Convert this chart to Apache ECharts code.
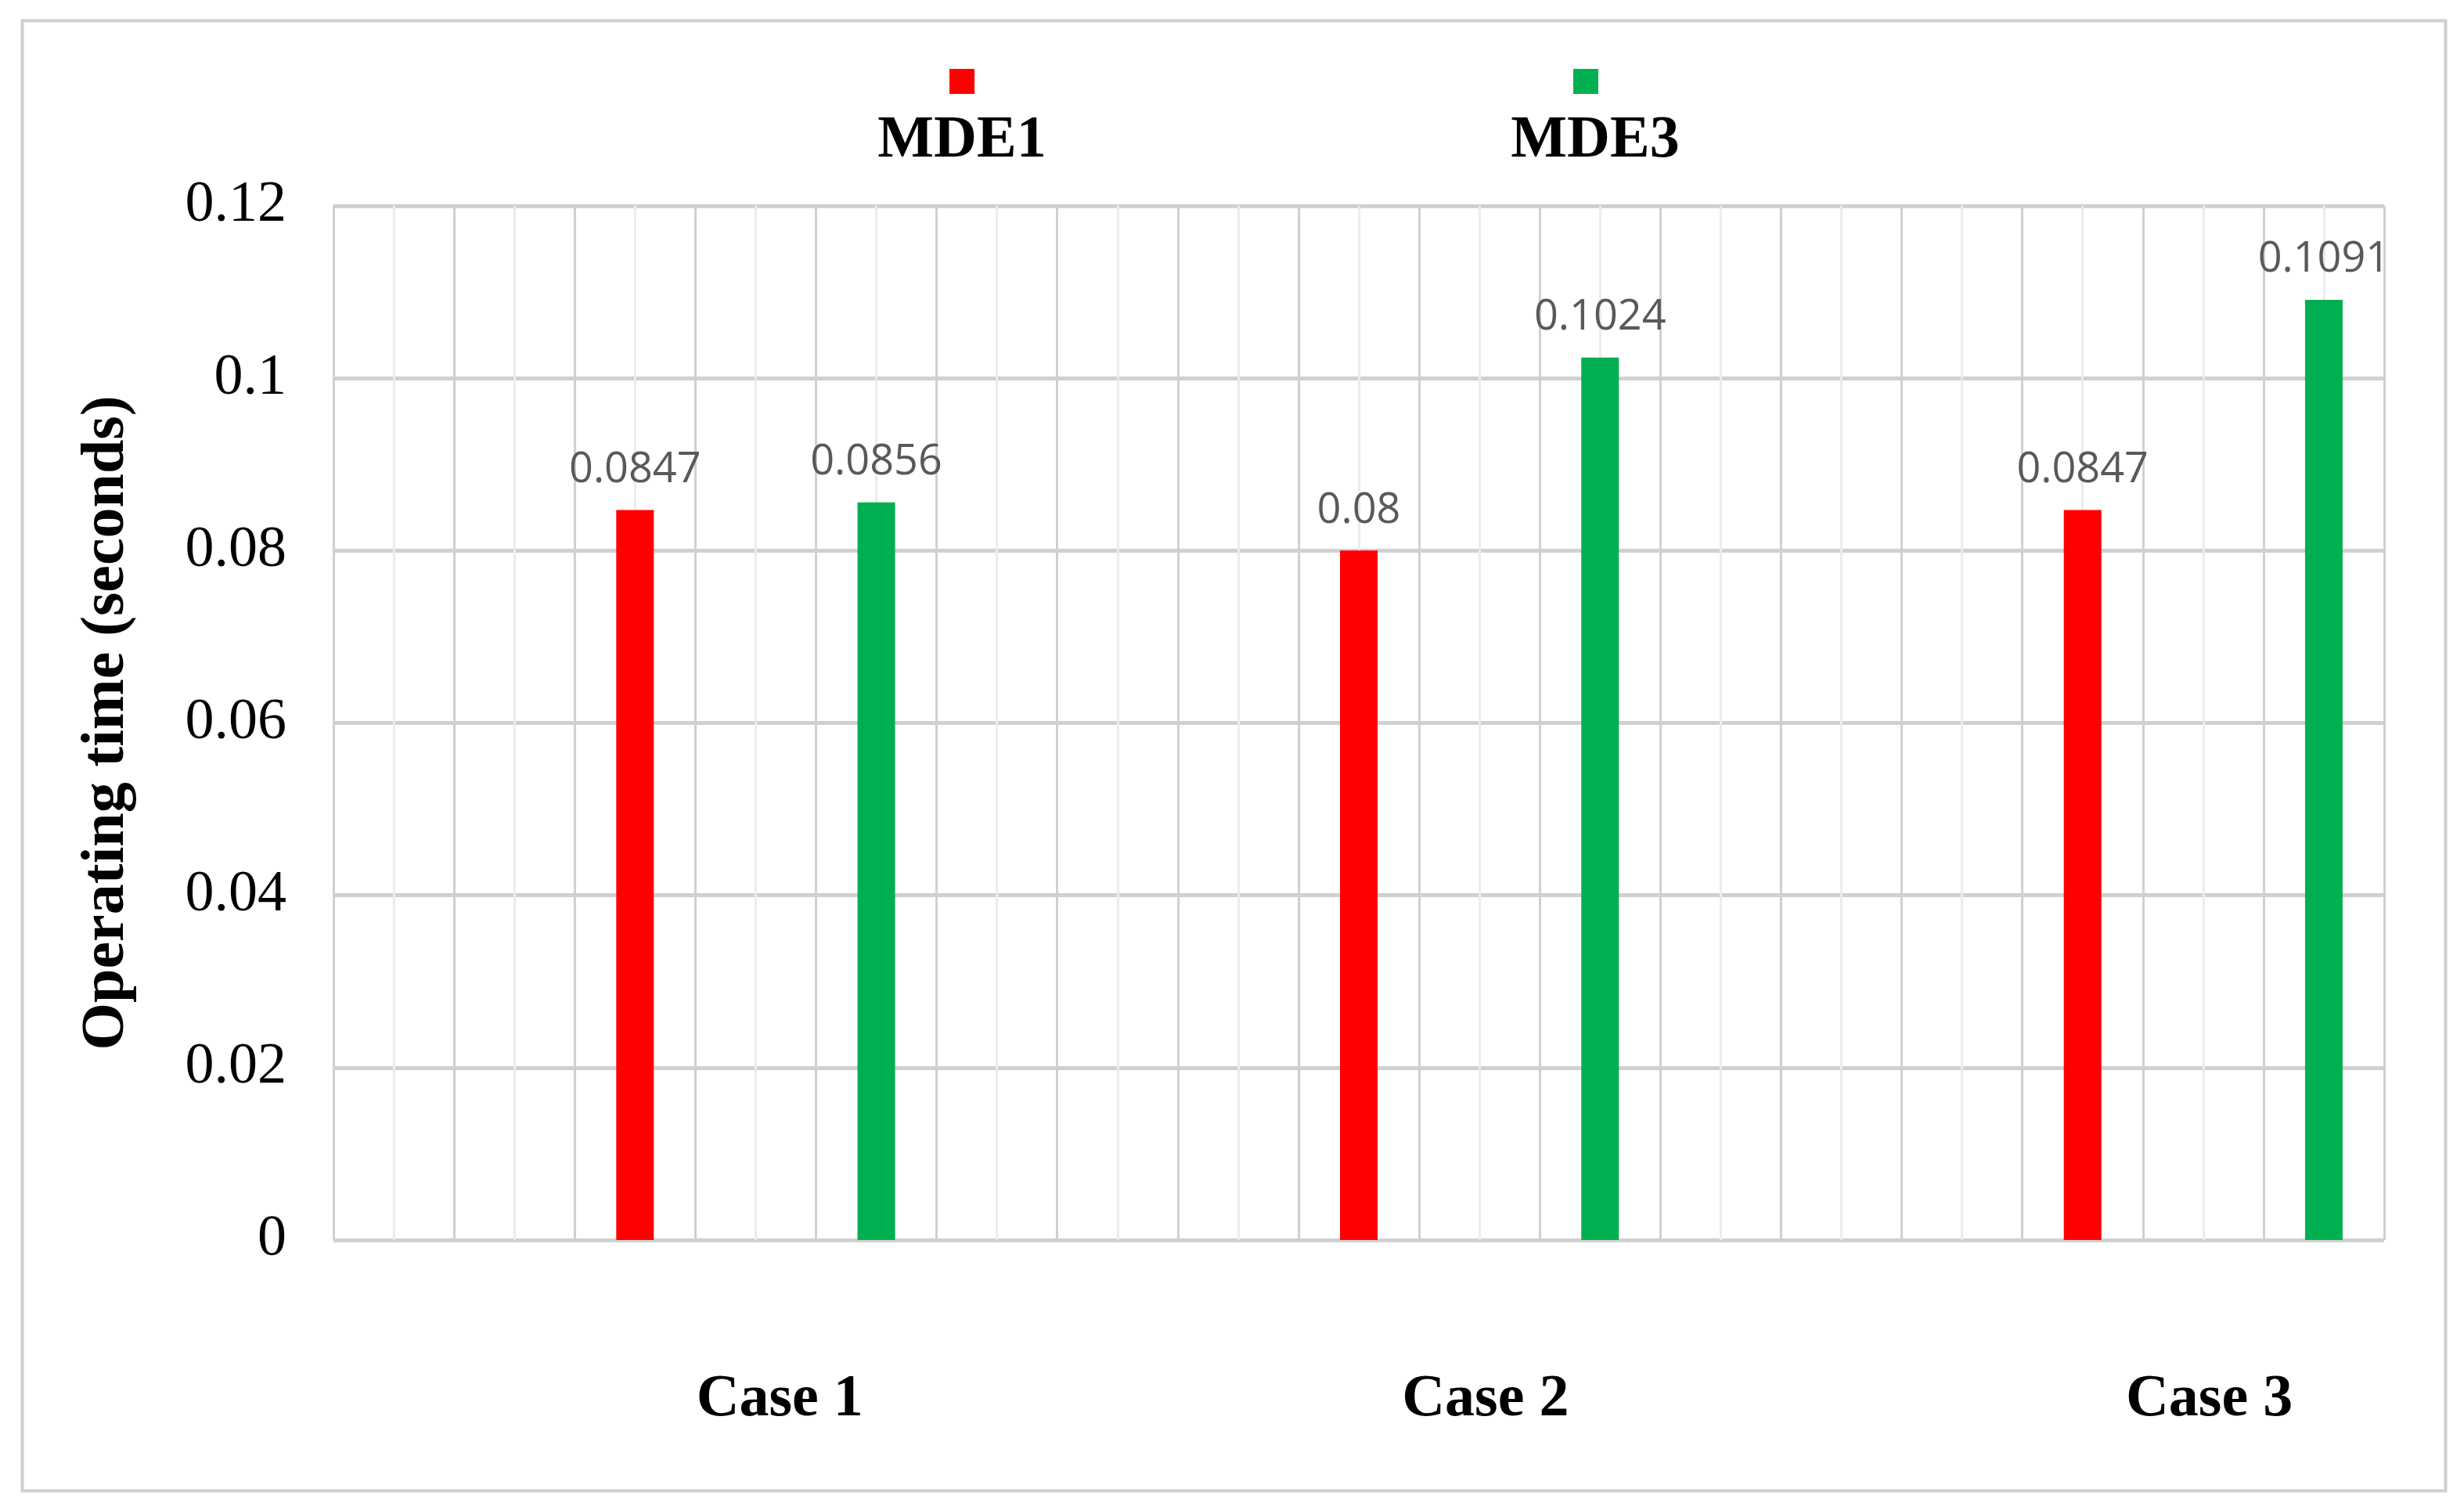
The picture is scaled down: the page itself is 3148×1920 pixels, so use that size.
<!DOCTYPE html>
<html>
<head>
<meta charset="utf-8">
<script src="https://cdn.jsdelivr.net/npm/echarts@6/dist/echarts.min.js"></script>
<style>html,body{margin:0;padding:0;background:#fff}#chart{width:3148px;height:1920px}</style>
</head>
<body>
<div id="chart"></div>
<script>
// 数据放在顶部 方便以后修改
const seriesNames = ["MDE1", "MDE3"];
const seriesColors = ["#ff0000", "#00b050"];
const caseLabels = ["Case 1", "Case 2", "Case 3"];
const caseLabelPos = [7.4, 19.1, 31.1];
const mde1Pos = [5, 17, 29];
const mde1Values = [0.0847, 0.08, 0.0847];
const mde3Pos = [9, 21, 33];
const mde3Values = [0.0856, 0.1024, 0.1091];
const yTicks = [0, 0.02, 0.04, 0.06, 0.08, 0.1, 0.12];

const chart = echarts.init(document.getElementById("chart"));

const serif = "Liberation Serif";
function pairs(xs, ys) {
  return xs.map((x, i) => [x, ys[i]]);
}
function barSeries(name, color, data, axisIdx) {
  return {
    name: name,
    type: "bar",
    xAxisIndex: axisIdx,
    data: data,
    barWidth: 48,
    barGap: "-100%",
    itemStyle: { color: color },
    label: {
      show: true,
      position: "top",
      distance: 24,
      color: "#595959",
      fontFamily: "Open Sans",
      fontSize: 54,
      formatter: (p) => String(p.value[1])
    }
  };
}

chart.setOption({
  animation: false,
  backgroundColor: "#fff",
  grid: { left: 426, right: 102, top: 263, bottom: 336 },
  xAxis: [
    {
      type: "value",
      min: 0,
      max: 34,
      interval: 2,
      axisLine: { show: false },
      axisTick: { show: false },
      axisLabel: { show: false },
      splitLine: { show: true, lineStyle: { color: "#d0d0d0", width: 3 } },
      minorTick: { show: false, splitNumber: 2 },
      minorSplitLine: { show: true, lineStyle: { color: "#ececec", width: 3 } }
    },
    {
      type: "value",
      min: 0,
      max: 34,
      position: "bottom",
      axisLine: { show: false },
      axisTick: { show: false },
      splitLine: { show: false },
      axisLabel: {
        customValues: caseLabelPos,
        margin: 166,
        fontFamily: serif,
        fontWeight: "bold",
        fontSize: 76,
        color: "#000",
        formatter: (v) => caseLabels[caseLabelPos.indexOf(v)] || ""
      }
    }
  ],
  yAxis: {
    type: "value",
    min: 0,
    max: 0.12,
    interval: 0.02,
    name: "Operating time (seconds)",
    nameLocation: "middle",
    nameGap: 250,
    nameTextStyle: { fontFamily: serif, fontWeight: "bold", fontSize: 78, color: "#000" },
    axisLine: { show: false },
    axisTick: { show: false },
    axisLabel: {
      margin: 60,
      fontFamily: serif,
      fontSize: 74,
      color: "#000",
      formatter: (v) => {
        const t = yTicks.find((k) => Math.abs(k - v) < 1e-9);
        return t === undefined ? "" : String(t);
      }
    },
    splitLine: { lineStyle: { color: "#d0d0d0", width: 5 } }
  },
  series: [
    barSeries(seriesNames[0], seriesColors[0], pairs(mde1Pos, mde1Values), 0),
    barSeries(seriesNames[1], seriesColors[1], pairs(mde3Pos, mde3Values), 0)
  ],
  graphic: [
    { type: "rect", left: 26, top: 24, shape: { width: 3096, height: 1878 }, style: { fill: "none", stroke: "#d0d0d0", lineWidth: 4 } },
    { type: "rect", left: 1213, top: 88, shape: { width: 32, height: 32 }, style: { fill: seriesColors[0] } },
    { type: "text", x: 1229, y: 142, style: { text: seriesNames[0], textAlign: "center", fontFamily: serif, fontWeight: "bold", fontSize: 76, fill: "#000" } },
    { type: "rect", left: 2010, top: 88, shape: { width: 32, height: 32 }, style: { fill: seriesColors[1] } },
    { type: "text", x: 2038, y: 142, style: { text: seriesNames[1], textAlign: "center", fontFamily: serif, fontWeight: "bold", fontSize: 76, fill: "#000" } }
  ]
});
</script>
</body>
</html>
